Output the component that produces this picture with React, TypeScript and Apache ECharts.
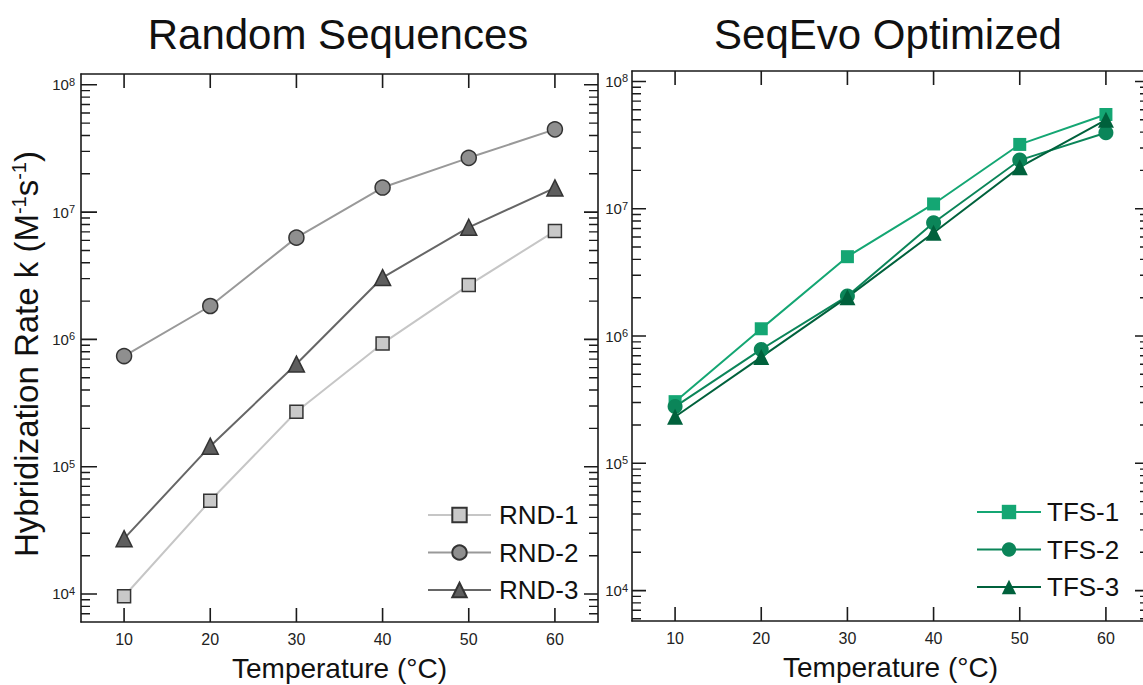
import React, { useEffect, useRef } from "react";
import * as echarts from "echarts";

// ---- data ----
const temperatures = [10, 20, 30, 40, 50, 60];
const rnd1 = [9.6e3, 5.4e4, 2.7e5, 9.3e5, 2.67e6, 7.1e6];
const rnd2 = [7.4e5, 1.83e6, 6.3e6, 1.56e7, 2.67e7, 4.47e7];
const rnd3 = [2.72e4, 1.45e5, 6.4e5, 3.06e6, 7.6e6, 1.55e7];
const tfs1 = [3.05e5, 1.14e6, 4.2e6, 1.09e7, 3.2e7, 5.5e7];
const tfs2 = [2.79e5, 7.85e5, 2.06e6, 7.76e6, 2.41e7, 3.95e7];
const tfs3 = [2.32e5, 6.83e5, 2.02e6, 6.47e6, 2.12e7, 5.0e7];
const decadeExponents = [4, 5, 6, 7, 8];
const minorMultipliers = [2, 3, 4, 5, 6, 7, 8, 9];
const xTickValues = [10, 20, 30, 40, 50, 60];
const panelTitles = ["Random Sequences", "SeqEvo Optimized"];

const FONT = "'Liberation Sans', Arial, sans-serif";
const AX = "#1a1a1a";
const X_MIN = 5;
const X_MAX = 65;

const minorValues: number[] = [];
for (let e = 3; e <= 8; e++) {
  for (const k of minorMultipliers) minorValues.push(Math.log10(k * Math.pow(10, e)));
}

const toPairs = (vals: number[]) => temperatures.map((t, i) => [t, Math.log10(vals[i])]);

function yAxes(grid: number, min: number, max: number, showName: boolean, labelMargin: number) {
  const common = { type: "value", gridIndex: grid, min, max, splitLine: { show: false }, axisTick: { show: false } };
  const left: any = {
    ...common,
    position: "left",
    axisLine: { show: true, lineStyle: { color: AX, width: 1.6 } },
    axisLabel: {
      show: true,
      customValues: decadeExponents,
      margin: labelMargin,
      formatter: (v: number) => `{b|10}{s|${Math.round(v)}}`,
      rich: {
        b: { fontSize: 15, fontFamily: FONT, color: "#222" },
        s: { fontSize: 11, fontFamily: FONT, color: "#222", verticalAlign: "top", padding: [0, 0, 6, 0] },
      },
    },
  };
  if (showName) {
    Object.assign(left, {
      name: "Hybridization Rate k (M{s|-1}s{s|-1})",
      nameLocation: "middle",
      nameRotate: 90,
      nameGap: 38,
      nameTextStyle: {
        fontSize: 33,
        fontFamily: FONT,
        color: "#111",
        padding: [0, 12, 0, 0],
        rich: { s: { fontSize: 20, fontFamily: FONT, color: "#111", verticalAlign: "top", padding: [0, 0, 14, 0] } },
      },
    });
  }
  const right = {
    ...common,
    position: "right",
    axisLine: { show: true, lineStyle: { color: AX, width: 1.6 } },
    axisLabel: { show: false },
  };
  return [left, right];
}

function xAxes(grid: number) {
  const common = {
    type: "value",
    gridIndex: grid,
    min: X_MIN,
    max: X_MAX,
    splitLine: { show: false },
    axisTick: { show: false },
    axisLine: { show: true, lineStyle: { color: AX, width: 1.6 } },
  };
  return [
    {
      ...common,
      position: "bottom",
      axisLabel: { show: true, customValues: xTickValues, margin: 9, fontSize: 16, fontFamily: FONT, color: "#222" },
      name: "Temperature (°C)",
      nameLocation: "middle",
      nameGap: 32,
      nameTextStyle: { fontSize: 28, fontFamily: FONT, color: "#111" },
    },
    { ...common, position: "top", axisLabel: { show: false } },
  ];
}

function lineSeries(name: string, vals: number[], xi: number, yi: number, symbol: string, size: number, fill: string, lineColor: string, border: string | null) {
  return {
    type: "line",
    name,
    xAxisIndex: xi,
    yAxisIndex: yi,
    data: toPairs(vals),
    symbol,
    symbolSize: size,
    showAllSymbol: true,
    lineStyle: { color: lineColor, width: 2 },
    itemStyle: border ? { color: fill, borderColor: border, borderWidth: 1.5 } : { color: fill, borderWidth: 0 },
    emphasis: { disabled: true },
    z: 3,
  };
}

const Y0 = [3.78, 8.085];
const Y1 = [3.761, 8.082];
const GRID0 = { left: 81, top: 74, width: 517, height: 548 };
const GRID1 = { left: 632, top: 71, width: 517, height: 550 };

// tick marks as broken line series segments, drawn through the axes' scales
function tickSeries(xi: number, yi: number, ylim: number[], grid: { width: number; height: number }, leftMajor: number, lengths: number[], values: "major" | "minor") {
  const perPxX = (X_MAX - X_MIN) / grid.width;
  const perPxY = (ylim[1] - ylim[0]) / grid.height;
  const data: any[] = [];
  const seg = (a: number[], b: number[]) => {
    data.push(a, b, [a[0], "-"]);
  };
  if (values === "major") {
    decadeExponents.forEach((v) => {
      seg([X_MIN, v], [X_MIN + leftMajor * perPxX, v]);
      seg([X_MAX, v], [X_MAX - lengths[0] * perPxX, v]);
    });
    xTickValues.forEach((v) => {
      seg([v, ylim[0]], [v, ylim[0] + lengths[0] * perPxY]);
      seg([v, ylim[1]], [v, ylim[1] - lengths[0] * perPxY]);
    });
  } else {
    minorValues
      .filter((v) => v > ylim[0] && v < ylim[1])
      .forEach((v) => {
        seg([X_MIN, v], [X_MIN + lengths[1] * perPxX, v]);
        seg([X_MAX, v], [X_MAX - lengths[1] * perPxX, v]);
      });
  }
  return {
    type: "line",
    xAxisIndex: xi,
    yAxisIndex: yi,
    data,
    symbol: "none",
    connectNulls: false,
    silent: false,
    clip: false,
    animation: false,
    lineStyle: { color: AX, width: values === "major" ? 1.6 : 1.4 },
    emphasis: { disabled: true },
    z: 4,
  };
}

export default function App() {
  const ref = useRef<HTMLDivElement>(null);
  useEffect(() => {
    if (!ref.current) return;
    const chart = echarts.init(ref.current, undefined, { renderer: "svg" });
    const option: any = {
      animation: false,
      backgroundColor: "#ffffff",
      title: [
        { text: panelTitles[0], left: 333, top: 8, textAlign: "center", textStyle: { fontSize: 42, fontWeight: "normal", fontFamily: FONT, color: "#111" } },
        { text: panelTitles[1], left: 883, top: 8, textAlign: "center", textStyle: { fontSize: 42, fontWeight: "normal", fontFamily: FONT, color: "#111" } },
      ],
      grid: [
        { ...GRID0, outerBoundsMode: "none", containLabel: false },
        { ...GRID1, outerBoundsMode: "none", containLabel: false },
      ],
      xAxis: [...xAxes(0), ...xAxes(1)],
      yAxis: [...yAxes(0, Y0[0], Y0[1], true, 6), ...yAxes(1, Y1[0], Y1[1], false, 4)],
      legend: [
        {
          data: ["RND-1", "RND-2", "RND-3"],
          orient: "vertical",
          left: 427,
          top: 502,
          padding: 0,
          itemWidth: 63,
          itemHeight: 18,
          itemGap: 11.5,
          selectedMode: false,
          textStyle: { fontSize: 26, fontFamily: FONT, color: "#111", padding: [0, 0, 0, 3] },
        },
        {
          data: ["TFS-1", "TFS-2", "TFS-3"],
          orient: "vertical",
          left: 976,
          top: 499,
          padding: 0,
          itemWidth: 64,
          itemHeight: 18,
          itemGap: 11.5,
          selectedMode: false,
          textStyle: { fontSize: 26, fontFamily: FONT, color: "#111", padding: [0, 0, 0, 1] },
        },
      ],
      series: [
        tickSeries(0, 0, Y0, GRID0, 16, [14, 9], "major"),
        tickSeries(0, 0, Y0, GRID0, 16, [14, 9], "minor"),
        tickSeries(2, 2, Y1, GRID1, 14, [14, 9], "major"),
        tickSeries(2, 2, Y1, GRID1, 14, [14, 9], "minor"),
        lineSeries("RND-1", rnd1, 0, 0, "rect", 13, "#c9c9c9", "#c6c6c6", "#333333"),
        lineSeries("RND-2", rnd2, 0, 0, "circle", 15, "#8f8f8f", "#999999", "#333333"),
        lineSeries("RND-3", rnd3, 0, 0, "triangle", 16, "#5e5e5e", "#666666", "#333333"),
        lineSeries("TFS-1", tfs1, 2, 2, "rect", 13, "#14a673", "#14a673", null),
        lineSeries("TFS-2", tfs2, 2, 2, "circle", 15, "#0b8559", "#0b8559", null),
        lineSeries("TFS-3", tfs3, 2, 2, "triangle", 16, "#00613c", "#00613c", null),
      ],
    };
    chart.setOption(option);
    return () => chart.dispose();
  }, []);
  return <div ref={ref} style={{ position: "absolute", left: 0, top: 0, width: 1143, height: 685 }} />;
}
